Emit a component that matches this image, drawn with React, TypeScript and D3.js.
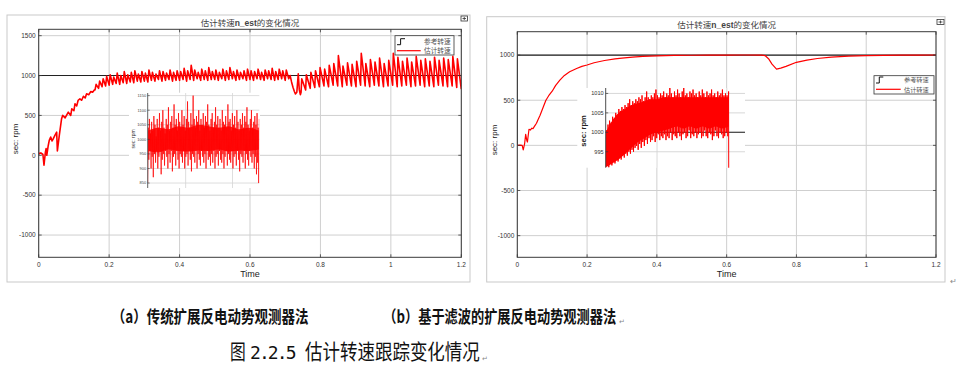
import React from 'react';
import * as d3 from 'd3';

// ---------- shared axis data ----------
const xTicks = [0, 0.2, 0.4, 0.6, 0.8, 1, 1.2];
const xTickLabels = ['0', '0.2', '0.4', '0.6', '0.8', '1', '1.2'];
const leftYTicks = [1500, 1000, 500, 0, -500, -1000];
const rightYTicks = [1000, 500, 0, -500, -1000];
const legendLabels = ['参考转速', '估计转速'];

// reference speed (step to 1000 at t=0)
const refT = [0, 0, 1.2];
const refV = [0, 1000, 1000];

// ---------- left chart (a) ----------
const leftEarlyT = [0, 0.006, 0.012, 0.015, 0.019, 0.021, 0.023, 0.027, 0.03, 0.034, 0.038, 0.0415, 0.046, 0.051, 0.053, 0.0585, 0.065, 0.068, 0.075, 0.084, 0.091, 0.094, 0.1, 0.103, 0.108, 0.112, 0.117, 0.122, 0.127, 0.132, 0.136, 0.142, 0.148, 0.153, 0.158];
const leftEarlyV = [21, 30, 10, -125, 40, 84, 0, 120, 187, 229, 180, 209, 250, 291, 54, 250, 459, 500, 470, 541, 500, 584, 560, 646, 620, 690, 709, 690, 740, 720, 771, 760, 800, 790, 820];

const leftTeeth1Span = [0.16, 0.71];
const leftTeeth1Peaks = [890, 930, 960, 990,
  1010, 980, 1030, 1000, 1050, 1010, 1040, 1060, 1020, 1050,
  1030, 1070, 1040, 1020, 1060, 1050, 1030, 1070, 1040, 1060,
  1050, 1090, 1060, 1130, 1070, 1040, 1080, 1060, 1100, 1050,
  1070, 1040, 1080, 1060, 1100, 1050, 1070, 1040, 1060, 1080,
  1060, 1050, 1080, 1040, 1070, 1060, 1090, 1050, 1080, 1060, 1070];
const leftTeeth1Troughs = [820, 840, 860, 870,
  880, 890, 900, 890, 910, 900, 920, 910, 930, 920,
  930, 920, 940, 930, 950, 930, 940, 950, 930, 940,
  940, 950, 930, 950, 940, 960, 940, 950, 940, 950,
  950, 940, 960, 940, 950, 960, 940, 950, 960, 940,
  950, 940, 960, 950, 940, 960, 950, 940, 950, 960, 940];

const leftDipT = [0.71, 0.714, 0.718, 0.722, 0.726, 0.729, 0.733, 0.737, 0.74, 0.743];
const leftDipV = [960, 1000, 920, 854, 800, 770, 790, 1021, 820, 760];

const leftTeeth2Span = [0.745, 1.2];
const leftTeeth2Peaks = [960, 1010, 1040, 1060, 1100, 1080, 1130, 1150, 1250, 1120, 1160, 1140, 1180, 1280, 1150, 1200, 1170, 1220, 1150, 1190, 1280, 1230, 1180, 1220, 1170, 1240, 1190, 1210, 1180, 1230, 1190, 1220, 1200, 1240, 1210];
const leftTeeth2Troughs = [790, 820, 840, 850, 860, 870, 860, 880, 870, 860, 880, 870, 860, 880, 870, 860, 880, 870, 860, 870, 880, 860, 870, 880, 860, 870, 880, 860, 870, 860, 880, 870, 860, 870, 850];
const leftEndV = 830;

// left inset (zoomed detail)
const leftInsetYTicks = [1150, 1100, 1050, 1000, 950, 900, 850];
const leftInsetXGrid = [0.34, 0.76];
const leftInsetHigh = [1040, 1070, 1020, 1060, 1030, 1080, 1050, 1010, 1070, 1040, 1090, 1030, 1060, 1100, 1040, 1020, 1070, 1050, 1110, 1030, 1060, 1080, 1040, 1120, 1050, 1070, 1030, 1090, 1060, 1040, 1100, 1050, 1080, 1030, 1070, 1130, 1060, 1040, 1090, 1050, 1150, 1070, 1040, 1080, 1060, 1100, 1030, 1070, 1050, 1090, 1040, 1080, 1060, 1120, 1050, 1030, 1070, 1090, 1040, 1060, 1110, 1050, 1080, 1040, 1070, 1030, 1100, 1060, 1050, 1080, 1040, 1120, 1060, 1070, 1030, 1090, 1050, 1080, 1040, 1100, 1060, 1030, 1070, 1050, 1090, 1040, 1080, 1060, 1110, 1050, 1030, 1070, 1100, 1040, 1060, 1080, 1050, 1090, 1040, 1070];
const leftInsetLow = [850, 930, 960, 900, 940, 870, 950, 920, 960, 900, 940, 960, 880, 930, 950, 910, 960, 940, 900, 950, 920, 960, 890, 940, 950, 910, 960, 930, 900, 950, 940, 920, 960, 900, 940, 950, 910, 960, 930, 890, 950, 940, 920, 960, 900, 950, 930, 910, 960, 940, 920, 950, 900, 960, 930, 940, 910, 950, 920, 960, 900, 940, 950, 910, 960, 930, 920, 950, 900, 940, 960, 910, 950, 930, 920, 960, 900, 940, 950, 910, 960, 930, 890, 950, 940, 920, 960, 900, 950, 930, 910, 960, 940, 920, 950, 900, 940, 880, 920, 850];
// solid core of the left inset band
const leftInsetCoreTop = [1030, 1040, 1035, 1045, 1040, 1050, 1045, 1040, 1045, 1035, 1040, 1030];
const leftInsetCoreBottom = [960, 955, 965, 960, 958, 962, 960, 965, 958, 962, 960, 965];

// ---------- right chart (b) ----------
const rightT = [0, 0.008, 0.014, 0.017, 0.021, 0.024, 0.027, 0.029, 0.0335, 0.038, 0.041, 0.045, 0.05, 0.055, 0.06, 0.065, 0.07, 0.075, 0.082, 0.09, 0.1, 0.11, 0.122, 0.135, 0.15, 0.17, 0.185, 0.2, 0.22, 0.25, 0.28, 0.3, 0.33, 0.36, 0.4, 0.45, 0.5, 0.55, 0.6, 0.65, 0.7, 0.71, 0.72, 0.73, 0.743, 0.755, 0.77, 0.8, 0.83, 0.86, 0.9, 0.95, 1.0, 1.05, 1.1, 1.15, 1.2];
const rightV = [0, 2, 0, -50, 20, 122, 60, 37, 178, 170, 190, 185, 215, 245, 290, 330, 380, 430, 500, 550, 600, 665, 722, 775, 815, 852, 875, 890, 915, 940, 958, 966, 977, 985, 991, 996, 998, 999, 1000, 1001, 1000, 995, 960, 900, 845, 855, 875, 920, 945, 962, 978, 988, 994, 997, 999, 1000, 1001];

// right inset
const rightInsetYTicks = [1010, 1005, 1000, 995];
const rightInsetXGrid = [0.4, 0.6];
const rightInsetSpan = [0.253, 0.605];
const rightInsetHigh = [1000.5, 1002, 1003, 1002.5, 1004, 1003.5, 1005, 1004.5, 1006, 1005.5, 1006.5, 1006, 1007, 1006.5, 1007.5, 1008.5, 1007, 1008, 1007.5, 1008.5,
  1008, 1009, 1008.5, 1009.5, 1008, 1009, 1010.5, 1009, 1008.5, 1009.5, 1009, 1010, 1011, 1009.5, 1009, 1010, 1009.5, 1010.5, 1009, 1010,
  1009.5, 1011.5, 1010, 1009, 1010.5, 1009.5, 1011, 1010, 1009, 1010.5, 1011.5, 1009.5, 1010, 1009, 1010.5, 1010, 1011, 1009.5, 1010, 1009,
  1010.5, 1009.5, 1011, 1010, 1009, 1010.5, 1009.5, 1010, 1011, 1009.5, 1010, 1009, 1010.5, 1009.5, 1010, 1011, 1009.5, 1010, 1009.5, 1010.5];
const rightInsetLow = [991, 991.5, 991, 992, 991.5, 992.5, 992, 993, 992.5, 993.5, 993, 994, 993.5, 994.5, 994, 995, 994.5, 995.5, 995, 996,
  996.5, 995.5, 997, 996, 997.5, 996.5, 998, 997, 998.5, 997.5, 998, 999, 997.5, 998.5, 999.5, 998, 999, 998.5, 999.5, 998,
  999, 998.5, 1000, 998, 999.5, 999, 998.5, 1000, 999, 998, 999.5, 1000, 998.5, 999, 1000.5, 998.5, 999.5, 999, 1000, 998.5,
  999.5, 1000, 998.5, 999, 1000.5, 999, 998.5, 1000, 999.5, 998, 999, 1000.5, 999, 998.5, 1000, 999.5, 998.5, 999, 1000, 999];
// solid core of the right inset band
const rightInsetCoreTop = [1000, 1003, 1005, 1006, 1007, 1007.5, 1008, 1008.5, 1008.5, 1009, 1009, 1009, 1009, 1009, 1009, 1009, 1009, 1009, 1009, 1009];
const rightInsetCoreBottom = [991, 992, 993, 994.5, 996, 997.5, 998.5, 999.5, 1000, 1000.5, 1001, 1001.5, 1001, 1001.5, 1001, 1001.5, 1001, 1001.5, 1001, 1001.5];
const rightInsetEnd = [0.6055, 985];

// ---------- helpers ----------
type Pt = [number, number];
const zipPts = (t: number[], v: number[]): Pt[] => t.map((d, i) => [d, v[i]] as Pt);

function buildTeeth(peaks: number[], troughs: number[], span: number[], rise: number, endV: number): Pt[] {
  const n = Math.min(peaks.length, troughs.length);
  const p = (span[1] - span[0]) / n;
  const pts: Pt[] = [];
  for (let i = 0; i < n; i++) {
    const ts = span[0] + i * p;
    pts.push([ts, troughs[i]]);
    pts.push([ts + rise * p, peaks[i]]);
  }
  pts.push([span[1], endV]);
  return pts;
}

function zigzag(high: number[], low: number[], span: number[]): Pt[] {
  const n = Math.min(high.length, low.length);
  const step = (span[1] - span[0]) / (2 * n - 1);
  const pts: Pt[] = [];
  for (let i = 0; i < n; i++) {
    pts.push([span[0] + 2 * i * step, low[i]]);
    pts.push([span[0] + (2 * i + 1) * step, high[i]]);
  }
  return pts;
}

type Band = [number, number, number];
function band(top: number[], bottom: number[], span: number[]): Band[] {
  const n = Math.min(top.length, bottom.length);
  const step = (span[1] - span[0]) / (n - 1);
  return top.slice(0, n).map((v, i) => [span[0] + i * step, bottom[i], v] as Band);
}

const FONT = "'Liberation Sans', Arial, sans-serif";
const CJK = "'Noto Sans CJK SC', sans-serif";
const GRID = '#cfcfcf';
const AXIS = '#3a3a3a';
const TICKTXT = '#333';

type PanelProps = {
  frame: [number, number, number, number];
  left: number; right: number; top: number; bottom: number;
  yDomain: [number, number];
  yTicks: number[];
  titleX: number; titleY: number;
  icon: [number, number, number, number];
  legend: { x: number; y: number; w: number; h: number; r1: number; r2: number; stepX: number; stepW: number; lineW: number; textX: number; fs: number };
  ylabel: [number, number];
  curve: Pt[];
  curveWidth: number;
  clipId: string;
  children?: React.ReactNode;
};

function Panel(p: PanelProps) {
  const x = d3.scaleLinear().domain([0, 1.2]).range([p.left, p.right]);
  const y = d3.scaleLinear().domain(p.yDomain).range([p.bottom, p.top]);
  const line = d3.line<Pt>().x(d => x(d[0])).y(d => y(d[1]));
  const ref = zipPts(refT, refV);
  const lg = p.legend;
  const stepTop = lg.r1 - 3;
  const stepBot = lg.r1 + 3;
  return (
    <g>
      <rect x={p.frame[0]} y={p.frame[1]} width={p.frame[2]} height={p.frame[3]} fill="#fff" stroke="#c9c9c9" strokeWidth={1} />
      <text x={p.titleX} y={p.titleY} textAnchor="middle" fontSize={8.5} fill="#444" fontFamily={CJK}>
        估计转速<tspan fontWeight="bold" fontFamily={FONT}>n_est</tspan>的变化情况
      </text>
      <rect x={p.icon[0]} y={p.icon[1]} width={p.icon[2]} height={p.icon[3]} fill="#fff" stroke="#333" strokeWidth={0.8} />
      <path d={`M${p.icon[0] + 1.5},${p.icon[1] + p.icon[3] / 2} h${p.icon[2] - 3} M${p.icon[0] + p.icon[2] / 2},${p.icon[1] + 1} v${p.icon[3] - 2}`} stroke="#333" strokeWidth={0.8} />
      <defs>
        <clipPath id={p.clipId}>
          <rect x={p.left} y={p.top} width={p.right - p.left} height={p.bottom - p.top} />
        </clipPath>
      </defs>
      {xTicks.map(t => (
        <line key={'gx' + t} x1={x(t)} x2={x(t)} y1={p.top} y2={p.bottom} stroke={GRID} strokeWidth={1} />
      ))}
      {p.yTicks.map(v => (
        <line key={'gy' + v} x1={p.left} x2={p.right} y1={y(v)} y2={y(v)} stroke={GRID} strokeWidth={1} />
      ))}
      <g clipPath={`url(#${p.clipId})`}>
        <path d={line(ref) || ''} fill="none" stroke="#222" strokeWidth={1.1} />
        <path d={line(p.curve) || ''} fill="none" stroke="#ff0000" strokeWidth={p.curveWidth} strokeLinejoin="round" />
      </g>
      <rect x={p.left} y={p.top} width={p.right - p.left} height={p.bottom - p.top} fill="none" stroke={AXIS} strokeWidth={1} />
      {xTicks.map(t => (
        <g key={'tx' + t}>
          <line x1={x(t)} x2={x(t)} y1={p.bottom} y2={p.bottom - 3} stroke={AXIS} strokeWidth={0.8} />
          <line x1={x(t)} x2={x(t)} y1={p.top} y2={p.top + 3} stroke={AXIS} strokeWidth={0.8} />
        </g>
      ))}
      {p.yTicks.map(v => (
        <g key={'ty' + v}>
          <line x1={p.left} x2={p.left + 3} y1={y(v)} y2={y(v)} stroke={AXIS} strokeWidth={0.8} />
          <line x1={p.right} x2={p.right - 3} y1={y(v)} y2={y(v)} stroke={AXIS} strokeWidth={0.8} />
        </g>
      ))}
      {xTicks.map((t, i) => (
        <text key={'lx' + t} x={x(t)} y={p.bottom + 10} textAnchor="middle" fontSize={6.5} fill={TICKTXT} fontFamily={FONT}>{xTickLabels[i]}</text>
      ))}
      {p.yTicks.map(v => (
        <text key={'ly' + v} x={p.left - 3} y={y(v) + 2.3} textAnchor="end" fontSize={6.5} fill={TICKTXT} fontFamily={FONT}>{String(v)}</text>
      ))}
      <text x={(p.left + p.right) / 2} y={p.bottom + 20} textAnchor="middle" fontSize={9} fill="#222" fontFamily={FONT}>Time</text>
      <text transform={`translate(${p.ylabel[0]},${p.ylabel[1]}) rotate(-90)`} textAnchor="middle" dy="0.35em" fontSize={8} fill="#222" fontFamily={FONT}>sec: rpm</text>
      {/* legend */}
      <rect x={lg.x} y={lg.y} width={lg.w} height={lg.h} fill="#fff" stroke="#333" strokeWidth={0.8} />
      <path d={`M${lg.stepX},${stepBot} H${lg.stepX + lg.stepW * 0.45} V${stepTop} H${lg.stepX + lg.stepW}`} fill="none" stroke="#111" strokeWidth={1} />
      <line x1={lg.stepX} x2={lg.stepX + lg.lineW} y1={lg.r2} y2={lg.r2} stroke="#ff0000" strokeWidth={1.2} />
      <text x={lg.textX} y={lg.r1 + lg.fs * 0.38} fontSize={lg.fs} fill="#555" fontFamily={CJK}>{legendLabels[0]}</text>
      <text x={lg.textX} y={lg.r2 + lg.fs * 0.38} fontSize={lg.fs} fill="#555" fontFamily={CJK}>{legendLabels[1]}</text>
      {p.children}
    </g>
  );
}

function LeftInset() {
  const xl = 147.7, xr = 259.3, yt = 93, yb = 188;
  const x = d3.scaleLinear().domain([0, 1]).range([xl, xr]);
  const y = d3.scaleLinear().domain([833, 1159]).range([yb, yt]);
  const pts = zigzag(leftInsetHigh, leftInsetLow, [0, 1]);
  const line = d3.line<Pt>().x(d => x(d[0])).y(d => y(d[1]));
  const core = band(leftInsetCoreTop, leftInsetCoreBottom, [0.005, 0.995]);
  const area = d3.area<Band>().x(d => x(d[0])).y0(d => y(d[1])).y1(d => y(d[2])).curve(d3.curveMonotoneX);
  return (
    <g>
      <rect x={129} y={92.7} width={131} height={95.3} fill="#fff" />
      <defs>
        <clipPath id="clipLI"><rect x={xl} y={yt} width={xr - xl} height={yb - yt - 2} /></clipPath>
      </defs>
      {leftInsetYTicks.map(v => (
        <line key={v} x1={xl} x2={xr} y1={y(v)} y2={y(v)} stroke="#d4d4d4" strokeWidth={0.8} />
      ))}
      {leftInsetXGrid.map(g => (
        <line key={g} x1={x(g)} x2={x(g)} y1={yt} y2={yb} stroke="#d4d4d4" strokeWidth={0.8} />
      ))}
      <g clipPath="url(#clipLI)">
        <path d={area(core) || ''} fill="#ff0000" fillOpacity={0.85} />
        <path d={line(pts) || ''} fill="none" stroke="#ff0000" strokeWidth={0.8} strokeOpacity={0.9} />
      </g>
      <line x1={xl} x2={xl} y1={yt} y2={yb} stroke={AXIS} strokeWidth={0.8} />
      {leftInsetYTicks.map(v => (
        <g key={'t' + v}>
          <line x1={xl} x2={xl + 2} y1={y(v)} y2={y(v)} stroke={AXIS} strokeWidth={0.6} />
          <text x={xl - 1.5} y={y(v) + 1.4} textAnchor="end" fontSize={4} fill="#444" fontFamily={FONT}>{String(v)}</text>
        </g>
      ))}
      <text transform="translate(133,139) rotate(-90)" textAnchor="middle" dy="0.35em" fontSize={5} fill="#333" fontFamily={FONT}>sec: rpm</text>
    </g>
  );
}

function RightInset() {
  const xl = 605.7, xr = 745, yt = 88, yb = 167.7;
  const x = d3.scaleLinear().domain([0.253, 0.652]).range([xl, xr]);
  const y = d3.scaleLinear().domain([990.9, 1011.4]).range([yb, yt]);
  const pts = zigzag(rightInsetHigh, rightInsetLow, rightInsetSpan);
  pts.push([rightInsetEnd[0], rightInsetEnd[1]]);
  const line = d3.line<Pt>().x(d => x(d[0])).y(d => y(d[1]));
  const core = band(rightInsetCoreTop, rightInsetCoreBottom, rightInsetSpan);
  const area = d3.area<Band>().x(d => x(d[0])).y0(d => y(d[1])).y1(d => y(d[2])).curve(d3.curveMonotoneX);
  return (
    <g>
      <rect x={577.3} y={88} width={167.7} height={79.7} fill="#fff" />
      <defs>
        <clipPath id="clipRI"><rect x={xl} y={yt} width={xr - xl} height={yb - yt} /></clipPath>
      </defs>
      {rightInsetYTicks.map(v => (
        <line key={v} x1={xl} x2={xr} y1={y(v)} y2={y(v)} stroke="#d4d4d4" strokeWidth={0.9} />
      ))}
      {rightInsetXGrid.map(g => (
        <line key={g} x1={x(g)} x2={x(g)} y1={yt} y2={yb} stroke="#d4d4d4" strokeWidth={0.9} />
      ))}
      <line x1={xl} x2={xr} y1={y(1000)} y2={y(1000)} stroke="#222" strokeWidth={1.1} />
      <g clipPath="url(#clipRI)">
        <path d={area(core) || ''} fill="#ff0000" />
        <path d={line(pts) || ''} fill="none" stroke="#ff0000" strokeWidth={1} />
      </g>
      <line x1={xl} x2={xl} y1={yt} y2={yb} stroke={AXIS} strokeWidth={0.9} />
      {rightInsetYTicks.map(v => (
        <g key={'t' + v}>
          <line x1={xl} x2={xl + 2.5} y1={y(v)} y2={y(v)} stroke={AXIS} strokeWidth={0.7} />
          <text x={xl - 2} y={y(v) + 2} textAnchor="end" fontSize={5.6} fill="#333" fontFamily={FONT}>{String(v)}</text>
        </g>
      ))}
      <text transform="translate(583,131) rotate(-90)" textAnchor="middle" dy="0.35em" fontSize={7.5} fill="#222" fontWeight="bold" fontFamily={FONT}>sec: rpm</text>
    </g>
  );
}

export default function App() {
  const leftCurve: Pt[] = [
    ...zipPts(leftEarlyT, leftEarlyV),
    ...buildTeeth(leftTeeth1Peaks, leftTeeth1Troughs, leftTeeth1Span, 0.3, leftDipV[0]),
    ...zipPts(leftDipT, leftDipV).slice(1),
    ...buildTeeth(leftTeeth2Peaks, leftTeeth2Troughs, leftTeeth2Span, 0.15, leftEndV),
  ];
  const rightCurve = zipPts(rightT, rightV);
  return (
    <div style={{ position: 'absolute', left: 0, top: 0 }}>
      <svg width={957} height={375} viewBox="0 0 957 375" style={{ display: 'block', background: '#fff' }}>
        <Panel
          frame={[7, 15, 463, 267]}
          left={38.7} right={461.3} top={29.3} bottom={257.3}
          yDomain={[-1279, 1580]} yTicks={leftYTicks}
          titleX={250} titleY={26}
          icon={[461, 16, 6.5, 5]}
          legend={{ x: 395, y: 35.7, w: 59, h: 19.3, r1: 41.7, r2: 50.7, stepX: 397, stepW: 8, lineW: 23.7, textX: 424, fs: 6.7 }}
          ylabel={[15, 139]}
          curve={leftCurve} curveWidth={1.6} clipId="clipL"
        >
          <LeftInset />
        </Panel>
        <Panel
          frame={[486.7, 16.7, 458.3, 265.3]}
          left={517.3} right={936} top={31.7} bottom={257.3}
          yDomain={[-1240, 1259]} yTicks={rightYTicks}
          titleX={726.7} titleY={28}
          icon={[937, 19.5, 7, 5]}
          legend={{ x: 874, y: 75.7, w: 60, h: 18.3, r1: 80, r2: 89.3, stepX: 876, stepW: 7.3, lineW: 24.7, textX: 904, fs: 6.2 }}
          ylabel={[494, 140]}
          curve={rightCurve} curveWidth={1.2} clipId="clipR"
        >
          <RightInset />
        </Panel>
        <text x={950} y={284} fontSize={8} fill="#888" fontFamily={FONT}>↵</text>
        {/* captions: horizontally condensed like the original typeface */}
        <text transform="translate(111.7,322.5) scale(0.818,1)" fontSize={16.5} fontWeight="bold" fill="#111" fontFamily={CJK}>（a）传统扩展反电动势观测器法</text>
        <text transform="translate(383.3,322.5) scale(0.8,1)" fontSize={16.5} fontWeight="bold" fill="#111" fontFamily={CJK}>（b）基于滤波的扩展反电动势观测器法</text>
        <text x={619} y={324} fontSize={7} fill="#888" fontFamily={FONT}>↵</text>
        <text transform="translate(230,359) scale(0.75,1)" fontSize={21} fill="#111" fontFamily={CJK}>图</text>
        <text x={250} y={358.5} fontSize={18} fill="#111" fontFamily="'DejaVu Sans Mono', monospace" letterSpacing={-1.9}>2.2.5</text>
        <text transform="translate(305,359) scale(0.833,1)" fontSize={21} fill="#111" fontFamily={CJK}>估计转速跟踪变化情况</text>
        <text x={482} y={361} fontSize={7} fill="#888" fontFamily={FONT}>↵</text>
      </svg>
    </div>
  );
}
